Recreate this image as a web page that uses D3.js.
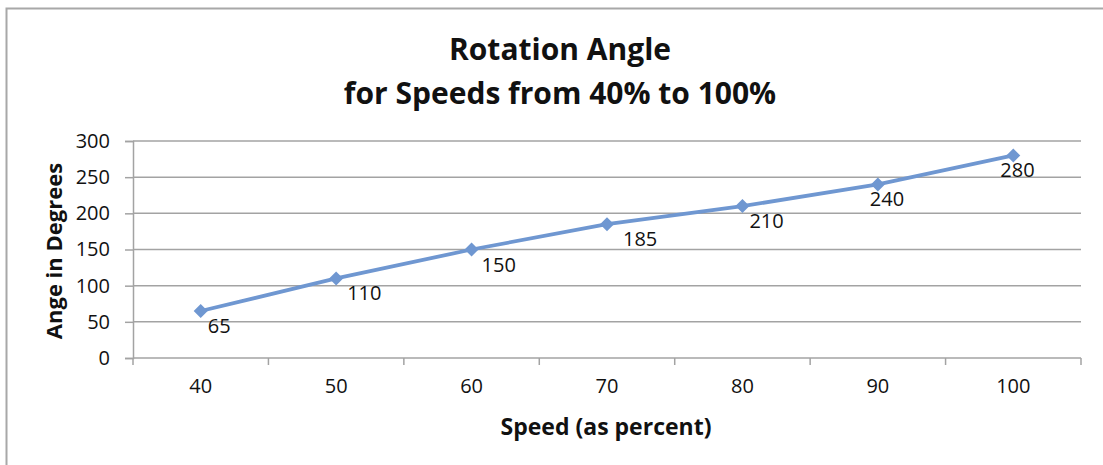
<!DOCTYPE html>
<html>
<head>
<meta charset="utf-8">
<script src="https://cdn.jsdelivr.net/npm/d3@7/dist/d3.min.js"></script>
<style>
  html, body { margin: 0; padding: 0; background: #fff; }
  svg { display: block; }
  text { font-family: "Open Sans", sans-serif; fill: #111; }
</style>
</head>
<body>
<svg id="chart" width="1103" height="465"></svg>
<script>
// Speed settings (percent) and the measured rotation angle (degrees)
const speeds = ["40", "50", "60", "70", "80", "90", "100"];
const angles = [65, 110, 150, 185, 210, 240, 280];
const yTicks = [0, 50, 100, 150, 200, 250, 300];

const titleLines = ["Rotation Angle", "for Speeds from 40% to 100%"];
const xTitle = "Speed (as percent)";
const yTitle = "Ange in Degrees";

const W = 1103, H = 465;
const plot = { left: 133, right: 1081, top: 141, bottom: 358 };
const lineColor = "#6f97d1";
const gridColor = "#a3a3a3";
const font = "'Open Sans', sans-serif";
const numSize = 20;

// small nudges so the value labels sit clear of the line
const labelDx = [7, 11, 10, 16, 7, -8, -13];

const svg = d3.select("#chart");

// outer chart frame
svg.append("rect")
  .attr("x", 6.5).attr("y", 8.5)
  .attr("width", W + 20).attr("height", H + 20)
  .attr("fill", "#fff")
  .attr("stroke", "#a8a8a8").attr("stroke-width", 2);

const x = d3.scaleBand().domain(speeds).range([plot.left, plot.right]).paddingInner(0).paddingOuter(0);
const y = d3.scaleLinear().domain([0, 300]).range([plot.bottom, plot.top]);

// horizontal gridlines
svg.append("g")
  .selectAll("line")
  .data(yTicks.filter(d => d > 0))
  .join("line")
  .attr("x1", plot.left).attr("x2", plot.right)
  .attr("y1", d => y(d)).attr("y2", d => y(d))
  .attr("stroke", gridColor).attr("stroke-width", 1.5);

// y axis
const yAxis = svg.append("g")
  .attr("transform", `translate(${plot.left},0)`)
  .call(d3.axisLeft(y).tickValues(yTicks).tickSize(8).tickPadding(15));
yAxis.select(".domain").attr("stroke", gridColor).attr("stroke-width", 1.5);
yAxis.selectAll(".tick line").attr("stroke", gridColor).attr("stroke-width", 1.5);
yAxis.selectAll(".tick text")
  .attr("font-family", font).attr("font-size", numSize).attr("fill", "#111");

// x axis: labels at category centres, tick marks between categories
const xAxis = svg.append("g")
  .attr("transform", `translate(0,${plot.bottom})`)
  .call(d3.axisBottom(x).tickSize(0).tickPadding(21));
xAxis.select(".domain").remove();
xAxis.selectAll(".tick text")
  .attr("font-family", font).attr("font-size", numSize).attr("fill", "#111");

svg.append("line")
  .attr("x1", plot.left).attr("x2", plot.right)
  .attr("y1", plot.bottom).attr("y2", plot.bottom)
  .attr("stroke", gridColor).attr("stroke-width", 1.5);

const edges = speeds.map(s => x(s)).concat([x(speeds[speeds.length - 1]) + x.bandwidth()]);
svg.append("g")
  .selectAll("line")
  .data(edges)
  .join("line")
  .attr("x1", d => d).attr("x2", d => d)
  .attr("y1", plot.bottom).attr("y2", plot.bottom + 7)
  .attr("stroke", gridColor).attr("stroke-width", 1.5);

// series line
const cx = (d, i) => x(speeds[i]) + x.bandwidth() / 2;
const line = d3.line().x((d, i) => cx(d, i)).y(d => y(d));
svg.append("path")
  .datum(angles)
  .attr("d", line)
  .attr("fill", "none")
  .attr("stroke", lineColor)
  .attr("stroke-width", 3.8)
  .attr("stroke-linejoin", "round");

// diamond markers
const diamond = d3.symbol().type(d3.symbolSquare).size(98);
svg.append("g")
  .selectAll("path")
  .data(angles)
  .join("path")
  .attr("d", diamond)
  .attr("transform", (d, i) => `translate(${cx(d, i)},${y(d)}) rotate(45)`)
  .attr("fill", lineColor);

// value labels
svg.append("g")
  .selectAll("text")
  .data(angles)
  .join("text")
  .attr("x", (d, i) => cx(d, i) + labelDx[i])
  .attr("y", d => y(d) + 22)
  .attr("font-size", numSize)
  .text(d => d);

// chart title
svg.append("text")
  .attr("text-anchor", "middle")
  .attr("font-weight", "bold")
  .attr("font-size", 30)
  .selectAll("tspan")
  .data(titleLines)
  .join("tspan")
  .attr("x", 560)
  .attr("y", (d, i) => 60 + i * 44)
  .text(d => d);

// axis titles
svg.append("text")
  .attr("x", 606).attr("y", 435)
  .attr("text-anchor", "middle")
  .attr("font-weight", "bold")
  .attr("font-size", 23)
  .text(xTitle);

svg.append("text")
  .attr("transform", "translate(62,251) rotate(-90)")
  .attr("text-anchor", "middle")
  .attr("font-weight", "bold")
  .attr("font-size", 22)
  .text(yTitle);
</script>
</body>
</html>
